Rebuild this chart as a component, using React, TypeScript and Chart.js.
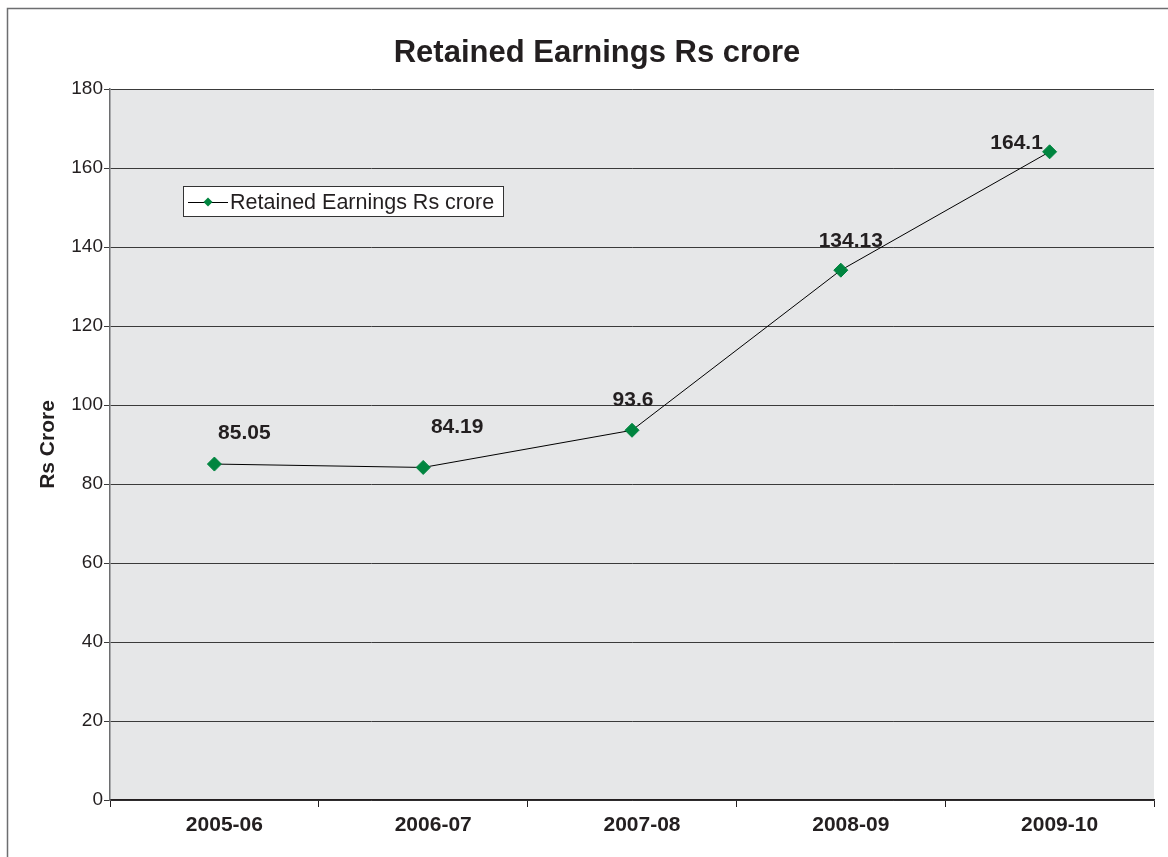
import React, { useEffect, useRef } from "react";
import { Chart, registerables } from "chart.js";

Chart.register(...registerables);

const categories = ["2005-06", "2006-07", "2007-08", "2008-09", "2009-10"];
const retainedEarnings = [85.05, 84.19, 93.6, 134.13, 164.1];
const dataLabels = ["85.05", "84.19", "93.6", "134.13", "164.1"];
const seriesName = "Retained Earnings Rs crore";
const chartTitle = "Retained Earnings Rs crore";
const yAxisTitle = "Rs Crore";

// label offsets relative to each point (pixels)
const labelOffsets = [
  [30, -31],
  [34, -40],
  [1, -30],
  [10, -29],
  [-33, -9],
];

const FONT = "'Liberation Sans', Arial, Helvetica, sans-serif";
const GREEN = "#00853f";
const TEXT = "#231f20";

const decorPlugin = {
  id: "decor",
  beforeDraw(chart: any) {
    const { ctx, chartArea } = chart;
    ctx.save();
    ctx.fillStyle = "#ffffff";
    ctx.fillRect(0, 0, chart.width, chart.height);
    ctx.fillStyle = "#e6e7e8";
    ctx.fillRect(chartArea.left, chartArea.top, chartArea.right - chartArea.left, chartArea.bottom - chartArea.top);
    ctx.restore();
  },
  afterDraw(chart: any) {
    const { ctx } = chart;
    ctx.save();
    // outer frame
    ctx.strokeStyle = "#6d6e70";
    ctx.lineWidth = 1.5;
    ctx.strokeRect(7.5, 8.5, chart.width + 20, chart.height + 20);

    // title
    ctx.fillStyle = TEXT;
    ctx.font = `bold 31px ${FONT}`;
    ctx.textAlign = "center";
    ctx.textBaseline = "middle";
    ctx.fillText(chartTitle, 597, 53);

    // data labels
    const meta = chart.getDatasetMeta(0);
    ctx.font = `bold 21px ${FONT}`;
    meta.data.forEach((pt: any, i: number) => {
      const [dx, dy] = labelOffsets[i];
      ctx.fillText(dataLabels[i], pt.x + dx, pt.y + dy);
    });

    // legend
    const lx = 183, ly = 186, lw = 320, lh = 30;
    ctx.fillStyle = "#ffffff";
    ctx.fillRect(lx, ly, lw, lh);
    ctx.strokeStyle = "#333333";
    ctx.lineWidth = 1;
    ctx.strokeRect(lx + 0.5, ly + 0.5, lw, lh);
    const cy = ly + lh / 2 + 1;
    ctx.strokeStyle = "#000000";
    ctx.beginPath();
    ctx.moveTo(lx + 5, cy + 0.5);
    ctx.lineTo(lx + 45, cy + 0.5);
    ctx.stroke();
    ctx.fillStyle = GREEN;
    ctx.beginPath();
    const mx = lx + 25, r = 4.5;
    ctx.moveTo(mx, cy - r);
    ctx.lineTo(mx + r, cy);
    ctx.lineTo(mx, cy + r);
    ctx.lineTo(mx - r, cy);
    ctx.closePath();
    ctx.fill();
    ctx.fillStyle = TEXT;
    ctx.font = `21.5px ${FONT}`;
    ctx.textAlign = "left";
    ctx.fillText(seriesName, lx + 47, cy + 1);
    ctx.restore();
  },
};

export default function App() {
  const canvasRef = useRef<HTMLCanvasElement>(null);

  useEffect(() => {
    const canvas = canvasRef.current;
    if (!canvas) return;
    const chart = new Chart(canvas, {
      type: "line",
      data: {
        labels: categories,
        datasets: [
          {
            label: seriesName,
            data: retainedEarnings,
            borderColor: "#000000",
            borderWidth: 1,
            pointStyle: "rectRot",
            pointRadius: 7,
            pointHoverRadius: 7,
            pointBackgroundColor: GREEN,
            pointBorderColor: GREEN,
            pointBorderWidth: 1,
            tension: 0,
          },
        ],
      },
      options: {
        responsive: false,
        animation: false,
        devicePixelRatio: 1,
        layout: { padding: { top: 89, right: 14, left: 0, bottom: 0 } },
        plugins: {
          legend: { display: false },
          title: { display: false },
          tooltip: { enabled: false },
        },
        scales: {
          x: {
            type: "category",
            offset: true,
            afterFit: (s: any) => {
              s.height = 57;
            },
            grid: {
              offset: true,
              drawOnChartArea: false,
              drawTicks: true,
              tickLength: 7,
              color: "#231f20",
            },
            border: { color: "#231f20", width: 1.5 },
            ticks: {
              color: TEXT,
              font: { family: FONT, size: 21, weight: "bold" },
              labelOffset: 10,
              padding: 6,
              maxRotation: 0,
            },
          },
          y: {
            min: 0,
            max: 180,
            afterFit: (s: any) => {
              s.width = 110;
            },
            ticks: {
              stepSize: 20,
              color: TEXT,
              font: { family: FONT, size: 19 },
              padding: 1,
            },
            grid: {
              color: "#3a3a3a",
              lineWidth: 1,
              drawTicks: true,
              tickLength: 6,
            },
            border: { color: "#6d6e70", width: 1.5 },
            title: {
              display: true,
              text: yAxisTitle,
              color: TEXT,
              font: { family: FONT, size: 21, weight: "bold" },
              padding: { top: 36, bottom: 0 },
            },
          },
        },
      },
      plugins: [decorPlugin],
    });
    return () => chart.destroy();
  }, []);

  return (
    <div style={{ position: "absolute", left: 0, top: 0, width: 1168, height: 857 }}>
      <canvas ref={canvasRef} width={1168} height={857} style={{ width: 1168, height: 857, display: "block" }} />
    </div>
  );
}
